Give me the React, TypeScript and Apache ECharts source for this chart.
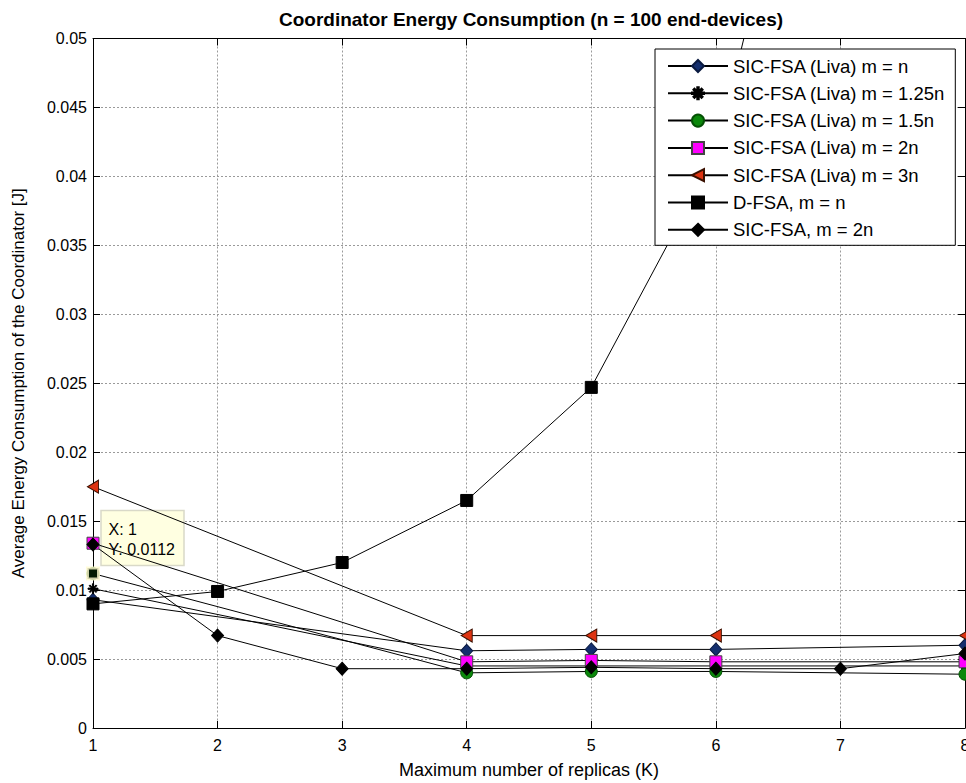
import React, { useEffect, useRef } from "react";
import * as echarts from "echarts";

// ---- data ----
const livaK = [1, 4, 5, 6, 8];
const livaN = [0.0093, 0.0056, 0.0057, 0.0057, 0.006];
const liva125n = [0.0101, 0.0045, 0.0045, 0.0045, 0.0045];
const liva15n = [0.0112, 0.004, 0.0041, 0.0041, 0.0039];
const liva2n = [0.0134, 0.0048, 0.0049, 0.0048, 0.0048];
const liva3n = [0.0175, 0.0067, 0.0067, 0.0067, 0.0067];
const dfsaK = [1, 2, 3, 4, 5, 6, 7];
const dfsaN = [0.009, 0.0099, 0.012, 0.0165, 0.0247, 0.0416, 0.079];
const sicK = [1, 2, 3, 4, 5, 6, 7, 8];
const sic2n = [0.0133, 0.0067, 0.0043, 0.0043, 0.0044, 0.0043, 0.0043, 0.0054];
const tipPoint = [1, 0.0112];
const tipLines = ["X: 1", "Y: 0.0112"];

const seriesNames = [
  "SIC-FSA (Liva) m = n",
  "SIC-FSA (Liva) m = 1.25n",
  "SIC-FSA (Liva) m = 1.5n",
  "SIC-FSA (Liva) m = 2n",
  "SIC-FSA (Liva) m = 3n",
  "D-FSA, m = n",
  "SIC-FSA, m = 2n",
];

const FONT = "'Liberation Sans', Arial, Helvetica, sans-serif";
const STAR =
  "path://M4.4 0h1.2v10h-1.2z M0 4.4h10v1.2h-10z M1.2 2.05l0.85-0.85 6.75 6.75-0.85 0.85z M8.8 2.05l-0.85-0.85-6.75 6.75 0.85 0.85z";
const LEFT_TRI = "path://M0 5L10 0L10 10Z";

function pairs(xs: number[], ys: number[]) {
  return xs.map((x, i) => [x, ys[i]]);
}

export default function App() {
  const ref = useRef<HTMLDivElement>(null);
  useEffect(() => {
    const chart = echarts.init(ref.current!, null, { renderer: "svg" });
    const lineStyle = { color: "#000", width: 1 };
    const mk = (
      name: string,
      data: number[][],
      symbol: string,
      size: number | number[],
      fill: string,
      border: string
    ) => ({
      name,
      type: "line",
      data,
      symbol,
      symbolSize: size,
      showSymbol: true,
      lineStyle,
      itemStyle: { color: fill, borderColor: border, borderWidth: 1 },
      emphasis: { disabled: true },
      clip: true,
      z: 2,
    });
    const option: any = {
      animation: false,
      backgroundColor: "#fff",
      title: {
        text: "Coordinator Energy Consumption (n = 100 end-devices)",
        left: 526,
        textAlign: "center",
        top: 5,
        textStyle: {
          fontFamily: "'Liberation Sans Narrow', " + FONT,
          fontWeight: "bold",
          fontSize: 19,
          color: "#000",
        },
      },
      grid: {
        left: 93,
        right: 1,
        top: 38.5,
        bottom: 55,
        containLabel: false,
        outerBoundsMode: "none",
      },
      legend: {
        data: seriesNames,
        orient: "vertical",
        left: 655,
        top: 49,
        padding: [7.5, 10, 6, 12],
        itemWidth: 60,
        itemHeight: 15,
        itemGap: 8.3,
        backgroundColor: "#fff",
        borderColor: "#000",
        borderWidth: 1,
        borderRadius: 0,
        selectedMode: false,
        textStyle: { fontFamily: FONT, fontSize: 18.5, color: "#000" },
        z: 10,
      },
      xAxis: [
        {
          type: "value",
          min: 1,
          max: 8,
          interval: 1,
          name: "Maximum number of replicas (K)",
          nameLocation: "middle",
          nameGap: 33,
          nameTextStyle: { fontFamily: FONT, fontSize: 18, color: "#000" },
          axisLine: { show: true, lineStyle: { color: "#000", width: 1 } },
          axisTick: { show: true, inside: true, length: 7, lineStyle: { color: "#000" } },
          axisLabel: { fontFamily: FONT, fontSize: 16, color: "#000", margin: 9 },
          splitLine: { show: true, lineStyle: { color: "#9a9a9a", type: [2, 2], width: 1 } },
        },
        {
          type: "value",
          position: "top",
          min: 1,
          max: 8,
          interval: 1,
          axisLine: { show: true, onZero: false, lineStyle: { color: "#000", width: 1 } },
          axisTick: { show: true, inside: true, length: 7, lineStyle: { color: "#000" } },
          axisLabel: { show: false },
          splitLine: { show: false },
        },
      ],
      yAxis: [
        {
          type: "value",
          min: 0,
          max: 0.05,
          interval: 0.005,
          name: "Average Energy Consumption of the Coordinator [J]",
          nameLocation: "middle",
          nameRotate: 90,
          nameGap: 66,
          nameTextStyle: { fontFamily: FONT, fontSize: 17, color: "#000" },
          axisLine: { show: true, lineStyle: { color: "#000", width: 1 } },
          axisTick: { show: true, inside: true, length: 7, lineStyle: { color: "#000" } },
          axisLabel: {
            fontFamily: FONT,
            fontSize: 16,
            color: "#000",
            margin: 6,
            formatter: (v: number) => (v === 0 ? "0" : String(parseFloat(v.toFixed(4)))),
          },
          splitLine: { show: true, lineStyle: { color: "#9a9a9a", type: [2, 2], width: 1 } },
        },
        {
          type: "value",
          position: "right",
          min: 0,
          max: 0.05,
          interval: 0.005,
          axisLine: { show: true, onZero: false, lineStyle: { color: "#000", width: 1 } },
          axisTick: { show: true, inside: true, length: 7, lineStyle: { color: "#000" } },
          axisLabel: { show: false },
          splitLine: { show: false },
        },
      ],
      series: [
        mk(seriesNames[0], pairs(livaK, livaN), "diamond", [12, 13], "#142f6e", "#0a1a40"),
        mk(seriesNames[1], pairs(livaK, liva125n), STAR, 10, "#000", "#000"),
        mk(seriesNames[2], pairs(livaK, liva15n), "circle", 12, "#0b880b", "#045004"),
        mk(seriesNames[3], pairs(livaK, liva2n), "rect", 12, "#ff00ff", "#444"),
        mk(seriesNames[4], pairs(livaK, liva3n), LEFT_TRI, [11, 13], "#dd3311", "#3a1000"),
        mk(seriesNames[5], pairs(dfsaK, dfsaN), "rect", 12, "#000", "#000"),
        mk(seriesNames[6], pairs(sicK, sic2n), "diamond", [12, 13], "#000", "#000"),
        {
          name: "datatip",
          type: "scatter",
          data: [tipPoint],
          symbol: "rect",
          symbolSize: 11,
          itemStyle: { color: "#000", borderColor: "#fffbd0", borderWidth: 3 },
          emphasis: { disabled: true },
          z: 6,
        },
      ],
    };
    chart.setOption(option);
    const p = chart.convertToPixel({ gridIndex: 0 }, tipPoint) as number[];
    chart.setOption({
      graphic: [
        {
          type: "group",
          z: 20,
          children: [
            {
              type: "rect",
              shape: { x: p[0] + 8, y: p[1] - 63, width: 83, height: 55 },
              style: { fill: "#ffffe1", stroke: "#d9d9c8", lineWidth: 1.5 },
            },
            {
              type: "text",
              x: p[0] + 15.5,
              y: p[1] - 44.5,
              style: {
                text: tipLines[0],
                fontFamily: FONT,
                fontSize: 16,
                fill: "#000",
                verticalAlign: "middle",
              },
            },
            {
              type: "text",
              x: p[0] + 15.5,
              y: p[1] - 24.5,
              style: {
                text: tipLines[1],
                fontFamily: FONT,
                fontSize: 16,
                fill: "#000",
                verticalAlign: "middle",
              },
            },
          ],
        },
      ],
    });
    return () => chart.dispose();
  }, []);
  return (
    <div
      ref={ref}
      style={{ position: "fixed", left: 0, top: 0, width: 966, height: 783 }}
    />
  );
}
